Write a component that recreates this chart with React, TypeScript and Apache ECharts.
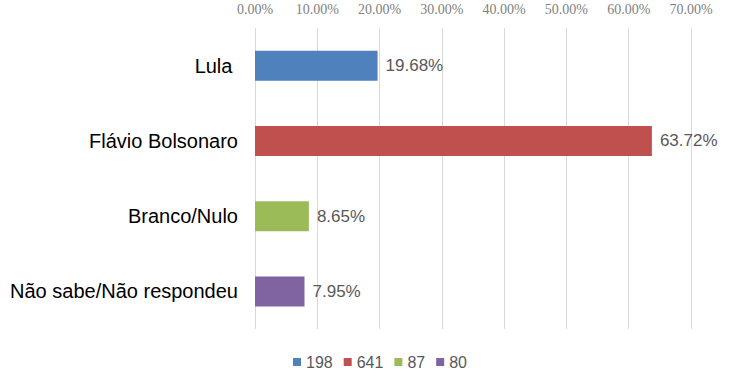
import React, { useEffect, useRef } from "react";
import * as echarts from "echarts";

const categories = ["Lula ", "Flávio Bolsonaro", "Branco/Nulo", "Não sabe/Não respondeu"];
const seriesNames = ["198", "641", "87", "80"];
const percentValues = [19.68, 63.72, 8.65, 7.95];
const colors = ["#4F81BD", "#C0504D", "#9BBB59", "#8064A2"];
const axisMax = 70;
const axisInterval = 10;

const SANS = "'Liberation Sans', Arial, sans-serif";
const SERIF = "'Liberation Serif', 'Times New Roman', serif";

export default function App() {
  const ref = useRef<HTMLDivElement>(null);
  useEffect(() => {
    if (!ref.current) return;
    const chart = echarts.init(ref.current, undefined, { renderer: "svg" });
    const series = seriesNames.map((name, i) => ({
      name,
      type: "bar",
      stack: "total",
      barWidth: 30,
      itemStyle: { color: colors[i] },
      label: {
        show: true,
        position: "right",
        distance: 8,
        color: "#595959",
        fontFamily: SANS,
        fontSize: 17,
        formatter: (p: any) => Number(p.value).toFixed(2) + "%",
      },
      data: categories.map((_, j) => (j === i ? percentValues[i] : "-")),
    }));
    chart.setOption({
      animation: false,
      grid: { left: 255, right: 55, top: 28, bottom: 54, containLabel: false },
      legend: {
        data: seriesNames,
        left: 288,
        top: 349,
        icon: "rect",
        itemWidth: 8,
        itemHeight: 8,
        itemGap: 11,
        textStyle: {
          color: "#595959",
          fontFamily: SANS,
          fontSize: 16,
        },
      },
      xAxis: {
        type: "value",
        position: "top",
        min: 0,
        max: axisMax,
        interval: axisInterval,
        axisLine: { show: false },
        axisTick: { show: false },
        splitLine: { show: true, lineStyle: { color: "#d9d9d9", width: 1 } },
        axisLabel: {
          margin: 12,
          color: "#7f7f7f",
          fontFamily: SERIF,
          fontSize: 14,
          formatter: (v: number) => v.toFixed(2) + "%",
        },
      },
      yAxis: {
        type: "category",
        inverse: true,
        data: categories,
        axisLine: { show: false },
        axisTick: { show: false },
        axisLabel: {
          margin: 17,
          color: "#000000",
          fontFamily: SANS,
          fontSize: 20,
        },
      },
      series,
    });
    return () => chart.dispose();
  }, []);
  return (
    <div
      ref={ref}
      style={{ position: "absolute", left: 0, top: 0, width: 746, height: 383, background: "#fff" }}
    />
  );
}
